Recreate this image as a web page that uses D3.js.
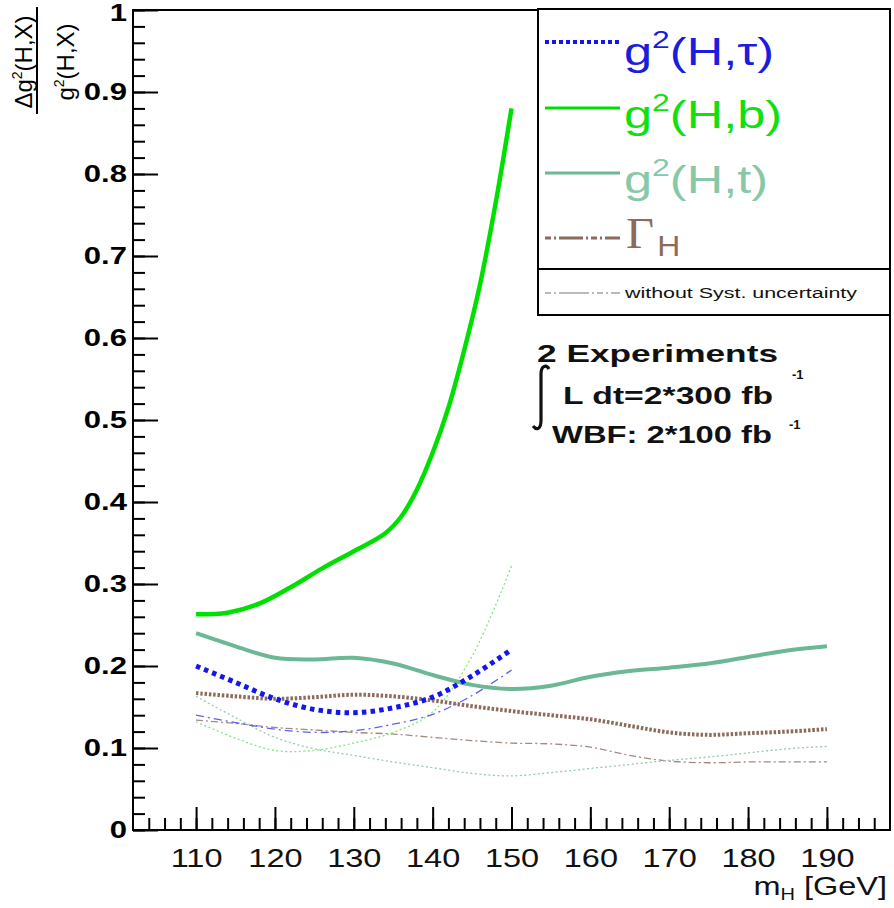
<!DOCTYPE html>
<html>
<head>
<meta charset="utf-8">
<script src="https://d3js.org/d3.v7.min.js"></script>
<style>
  body { margin: 0; background: #fff; }
  svg text { font-family: "Liberation Sans", Arial, sans-serif; }
</style>
</head>
<body>
<svg id="svg" width="894" height="908"></svg>
<script>
// ---- data ----
const massShort = [110, 115, 120, 125, 130, 135, 140, 145, 150];
const massLong = [110, 115, 120, 125, 130, 135, 140, 145, 150, 155, 160, 165, 170, 175, 180, 185, 190];
const massHb = [110, 114, 118, 122, 126, 130, 134, 136, 138, 140, 142, 144, 146, 148, 150];

const hTau = [0.200, 0.180, 0.160, 0.147, 0.143, 0.149, 0.162, 0.188, 0.220];
const hB = [0.263, 0.265, 0.276, 0.296, 0.319, 0.340, 0.362, 0.382, 0.415, 0.460, 0.515, 0.585, 0.665, 0.765, 0.880];
const hT = [0.240, 0.224, 0.210, 0.208, 0.210, 0.203, 0.189, 0.177, 0.172, 0.176, 0.187, 0.194, 0.198, 0.203, 0.211, 0.219, 0.224];
const gammaH = [0.167, 0.163, 0.160, 0.162, 0.165, 0.163, 0.158, 0.151, 0.145, 0.140, 0.135, 0.127, 0.119, 0.116, 0.118, 0.120, 0.123];

// without systematic uncertainty
const hTauNoSyst = [0.140, 0.131, 0.123, 0.119, 0.121, 0.129, 0.141, 0.164, 0.195];
const hBNoSyst = [0.132, 0.112, 0.097, 0.097, 0.106, 0.119, 0.144, 0.212, 0.322];
const hTNoSyst = [0.163, 0.137, 0.113, 0.099, 0.091, 0.083, 0.076, 0.069, 0.066, 0.070, 0.075, 0.080, 0.085, 0.089, 0.094, 0.099, 0.102];
const gammaHNoSyst = [0.134, 0.130, 0.125, 0.122, 0.119, 0.117, 0.113, 0.109, 0.106, 0.105, 0.101, 0.091, 0.084, 0.082, 0.083, 0.083, 0.083];

const xTicks = [110, 120, 130, 140, 150, 160, 170, 180, 190];
const yTicks = [0, 0.1, 0.2, 0.3, 0.4, 0.5, 0.6, 0.7, 0.8, 0.9, 1];
const yTickLabels = ["0", "0.1", "0.2", "0.3", "0.4", "0.5", "0.6", "0.7", "0.8", "0.9", "1"];

const svg = d3.select("svg#svg");
const width = +svg.attr("width");
const height = +svg.attr("height");
const margins = { top: 10, right: 4, bottom: 78, left: 133 };

const xScale = d3.scaleLinear().domain([102, 198]).range([margins.left, width - margins.right]);
const yScale = d3.scaleLinear().domain([0, 1]).range([height - margins.bottom, margins.top]);

// stretch text horizontally around its anchor (the picture's fonts are wide)
function stretch(sel, sx) {
  sel.each(function() {
    const t = d3.select(this);
    const x = +t.attr("x") || 0, y = +t.attr("y") || 0;
    t.attr("transform", `translate(${x},${y}) scale(${sx},1)`).attr("x", 0).attr("y", 0);
  });
}

// frame
svg.append("rect")
   .attr("x", xScale.range()[0]).attr("y", yScale.range()[1])
   .attr("width", xScale.range()[1] - xScale.range()[0])
   .attr("height", yScale.range()[0] - yScale.range()[1])
   .attr("fill", "none").attr("stroke", "#000").attr("stroke-width", 2);

// left axis: major + minor ticks pointing inward
const yMinor = d3.range(0, 1.0001, 0.02);
svg.append("g")
   .attr("transform", `translate(${margins.left},0)`)
   .call(d3.axisLeft(yScale).tickValues(yMinor).tickSize(-12).tickFormat(""))
   .call(g => g.select(".domain").remove())
   .call(g => g.selectAll("line").attr("stroke-width", 2));
const leftAxis = svg.append("g")
   .attr("transform", `translate(${margins.left},0)`)
   .call(d3.axisLeft(yScale).tickValues(yTicks).tickSize(-25).tickPadding(6)
           .tickFormat((d, i) => yTickLabels[i]))
   .call(g => g.select(".domain").remove());
leftAxis.selectAll("line").attr("stroke-width", 2);
leftAxis.selectAll("text")
   .attr("font-size", 23).attr("font-weight", "bold").attr("fill", "#000")
   .attr("dy", null).attr("dominant-baseline", "central")
   .style("font-family", "Liberation Sans, Arial, sans-serif")
   .attr("y", d => d === 1 ? 3 : 0);
stretch(leftAxis.selectAll("text"), 1.35);

// bottom axis
const xMinor = d3.range(104, 198, 2);
svg.append("g")
   .attr("transform", `translate(0,${height - margins.bottom})`)
   .call(d3.axisBottom(xScale).tickValues(xMinor).tickSize(-12).tickFormat(""))
   .call(g => g.select(".domain").remove())
   .call(g => g.selectAll("line").attr("stroke-width", 2));
const bottomAxis = svg.append("g")
   .attr("transform", `translate(0,${height - margins.bottom})`)
   .call(d3.axisBottom(xScale).tickValues(xTicks).tickSize(-23).tickPadding(16).tickFormat(d3.format("d")))
   .call(g => g.select(".domain").remove());
bottomAxis.selectAll("line").attr("stroke-width", 2);
bottomAxis.selectAll("text")
   .attr("font-size", 25).attr("fill", "#111")
   .attr("dy", null).attr("dominant-baseline", "central").attr("y", 28)
   .style("font-family", "Liberation Sans, Arial, sans-serif");
stretch(bottomAxis.selectAll("text"), 1.3);

// x title
const xTitle = svg.append("text").attr("x", 887).attr("y", 895)
   .attr("text-anchor", "end").attr("font-size", 26).attr("fill", "#111");
xTitle.append("tspan").text("m");
xTitle.append("tspan").attr("font-size", 16).attr("dy", 5).text("H");
xTitle.append("tspan").attr("dy", -5).text(" [GeV]");
stretch(xTitle, 1.25);

// y title as a fraction, rotated
const num = svg.append("text").attr("transform", "translate(32,62) rotate(-90)")
   .attr("text-anchor", "middle").attr("font-size", 24);
num.append("tspan").text("Δg");
num.append("tspan").attr("font-size", 14).attr("dy", -10).text("2");
num.append("tspan").attr("dy", 10).text("(H,X)");
svg.append("line").attr("x1", 37).attr("x2", 37).attr("y1", 7).attr("y2", 114)
   .attr("stroke", "#000").attr("stroke-width", 2);
const den = svg.append("text").attr("transform", "translate(74,62) rotate(-90)")
   .attr("text-anchor", "middle").attr("font-size", 24);
den.append("tspan").text("g");
den.append("tspan").attr("font-size", 14).attr("dy", -10).text("2");
den.append("tspan").attr("dy", 10).text("(H,X)");

// curves
const plot = svg.append("g").attr("id", "chartArea");
const lineGen = d3.line()
   .x(d => xScale(d[0]))
   .y(d => yScale(d[1]))
   .curve(d3.curveCatmullRom.alpha(0.5));

const series = [
  { m: massLong, v: gammaHNoSyst, color: "#a28a80", width: 1.3, dash: "7,3,2,3" },
  { m: massLong, v: hTNoSyst, color: "#96c8b4", width: 1.3, dash: "2,2.5" },
  { m: massShort, v: hBNoSyst, color: "#7fe87f", width: 1.3, dash: "2,2.5" },
  { m: massShort, v: hTauNoSyst, color: "#6060ee", width: 1.3, dash: "8,4,2,4" },
  { m: massLong, v: gammaH, color: "#8c6b5c", width: 4, dash: "2.5,1.8" },
  { m: massLong, v: hT, color: "#6cb894", width: 4, dash: null },
  { m: massHb, v: hB, color: "#00e000", width: 4.5, dash: null },
  { m: massShort, v: hTau, color: "#1515ee", width: 5, dash: "4.5,4.2" }
];

plot.selectAll("path")
   .data(series)
   .join("path")
   .attr("fill", "none")
   .attr("stroke", d => d.color)
   .attr("stroke-width", d => d.width)
   .attr("stroke-dasharray", d => d.dash)
   .attr("d", d => lineGen(d.m.map((m, i) => [m, d.v[i]])));

// legend
const legend = svg.append("g").attr("id", "legend");
legend.append("rect").attr("x", 538).attr("y", 9).attr("width", 352).attr("height", 306)
   .attr("fill", "#fff").attr("stroke", "#000").attr("stroke-width", 2);
legend.append("line").attr("x1", 538).attr("x2", 890).attr("y1", 269).attr("y2", 269)
   .attr("stroke", "#000").attr("stroke-width", 2);

const legendItems = [
  { label: "τ", lineY: 42, baseY: 65, color: "#1515ee", text: "#1c1cdc", width: 4, dash: "4,3" },
  { label: "b", lineY: 108, baseY: 128, color: "#00e000", text: "#10e010", width: 3, dash: null },
  { label: "t", lineY: 173, baseY: 193, color: "#6cb894", text: "#88c8a8", width: 3, dash: null }
];
legendItems.forEach(it => {
  legend.append("line").attr("x1", 545).attr("x2", 620).attr("y1", it.lineY).attr("y2", it.lineY)
     .attr("stroke", it.color).attr("stroke-width", it.width).attr("stroke-dasharray", it.dash);
  const t = legend.append("text").attr("x", 624).attr("y", it.baseY)
     .attr("font-size", 38).attr("fill", it.text);
  t.append("tspan").text("g");
  t.append("tspan").attr("font-size", 24).attr("dy", -17).text("2");
  t.append("tspan").attr("dy", 17).text("(H," + it.label + ")");
  stretch(t, 1.33);
});
legend.append("line").attr("x1", 545).attr("x2", 620).attr("y1", 238).attr("y2", 238)
   .attr("stroke", "#8c6b5c").attr("stroke-width", 3).attr("stroke-dasharray", "6,3,2,3,24,3,2,3");
const gam = legend.append("text").attr("x", 626).attr("y", 248).attr("fill", "#8c6b5c");
gam.append("tspan").attr("font-size", 44).style("font-family", "Liberation Serif, serif").text("Γ");
gam.append("tspan").attr("font-size", 29).attr("dy", 8).attr("dx", 3).text("H");
stretch(gam, 1.1);

legend.append("line").attr("x1", 545).attr("x2", 620).attr("y1", 293).attr("y2", 293)
   .attr("stroke", "#777").attr("stroke-width", 1).attr("stroke-dasharray", "6,3,2,3,30,3,2,3");
legend.append("text").attr("x", 625).attr("y", 298).attr("font-size", 14).attr("fill", "#111")
   .attr("textLength", 232).attr("lengthAdjust", "spacingAndGlyphs")
   .text("without Syst. uncertainty");

// annotation
const note = svg.append("g").attr("id", "note").attr("font-weight", "bold").attr("fill", "#111");
note.append("text").attr("x", 537).attr("y", 362).attr("font-size", 24)
   .attr("textLength", 241).attr("lengthAdjust", "spacingAndGlyphs").text("2 Experiments");
note.append("path")
   .attr("d", "M549,369 C546,364 541,366 541,374 L541,420 C541,429 537,431 533,426")
   .attr("fill", "none").attr("stroke", "#111").attr("stroke-width", 3.2);
note.append("text").attr("x", 563).attr("y", 404).attr("font-size", 24)
   .attr("textLength", 210).attr("lengthAdjust", "spacingAndGlyphs").text("L dt=2*300 fb");
note.append("text").attr("x", 792).attr("y", 379).attr("font-size", 13).text("-1");
note.append("text").attr("x", 789).attr("y", 429).attr("font-size", 13).text("-1");
note.append("text").attr("x", 552).attr("y", 443).attr("font-size", 24)
   .attr("textLength", 220).attr("lengthAdjust", "spacingAndGlyphs").text("WBF: 2*100 fb");
</script>
</body>
</html>
